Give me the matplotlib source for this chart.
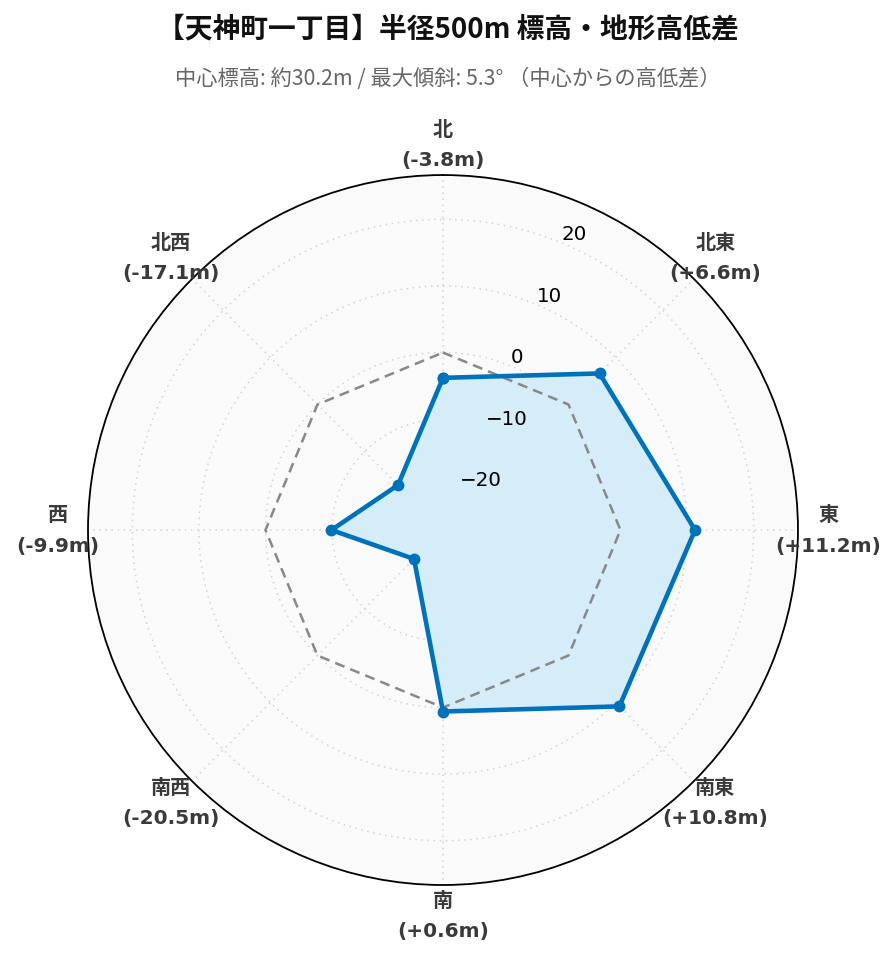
import numpy as np
import matplotlib
matplotlib.use("Agg")
import matplotlib.pyplot as plt

# data
directions = ["北", "北東", "東", "南東", "南", "南西", "西", "北西"]
angles_deg = [0, 45, 90, 135, 180, 225, 270, 315]
diffs = [-3.8, 6.6, 11.2, 10.8, 0.6, -20.5, -9.9, -17.1]
r_ticks = [-20, -10, 0, 10, 20]

title = "【天神町一丁目】半径500m 標高・地形高低差"
subtitle = "中心標高: 約30.2m / 最大傾斜: 5.3° （中心からの高低差）"

CJK = ["Noto Sans CJK JP", "DejaVu Sans"]
LAT = ["DejaVu Sans", "Noto Sans CJK JP"]

r_lim = max(abs(v) for v in diffs) * 1.3

fig = plt.figure(figsize=(8.96, 9.62), dpi=100)
ax = fig.add_axes([0.0982, 0.079, 0.7924, 0.738], projection="polar")
ax.set_theta_zero_location("N")
ax.set_theta_direction(-1)
ax.set_ylim(-r_lim, r_lim)
ax.set_facecolor("#fafafa")

theta = np.deg2rad(angles_deg)
theta_c = np.append(theta, theta[0])
vals_c = np.append(diffs, diffs[0])

# zero reference line
ax.plot(theta_c, np.zeros_like(theta_c), color="#888888", lw=1.8,
        linestyle=(0, (4, 2.5)), zorder=3)
ax.fill(theta_c, vals_c, color="#d4edf9", zorder=2)
ax.plot(theta_c, vals_c, color="#0072bb", lw=3.3, marker="o", ms=7.5, zorder=4)

# grid
ax.set_xticks(theta)
ax.set_xticklabels([])
ax.set_yticks(r_ticks)
ax.set_yticklabels([])
ax.grid(True, color="#d4d4d4", linestyle=(0, (1, 3)), lw=1.1)
ax.spines["polar"].set_color("black")
ax.spines["polar"].set_linewidth(1.3)
ax.tick_params(length=0)

# radial tick labels
for t in r_ticks:
    lab = f"{t}".replace("-", "\u2212")
    ax.text(np.deg2rad(22.5), t, lab, ha="left", va="bottom",
            fontsize=14.3, family=LAT, color="black", zorder=5)

# direction labels
for a, name, v in zip(angles_deg, directions, diffs):
    ang = np.deg2rad(a)
    x = 0.5 + 0.5 * 1.085 * np.sin(ang)
    y = 0.5 + 0.5 * 1.085 * np.cos(ang)
    ax.text(x, y, f"{name}\n({v:+.1f}m)", transform=ax.transAxes,
            ha="center", va="center", ma="center", fontsize=14.5,
            fontweight="bold", family=LAT, color="#3a3a3a", linespacing=1.75)

fig.text(0.5, 0.969, title, ha="center", va="center", fontsize=20,
         fontweight="bold", family=CJK, color="#111111")
fig.text(0.5, 0.918, subtitle, ha="center", va="center", fontsize=15.3,
         family=CJK, color="#666666")

fig.savefig("out.png", dpi=100)
